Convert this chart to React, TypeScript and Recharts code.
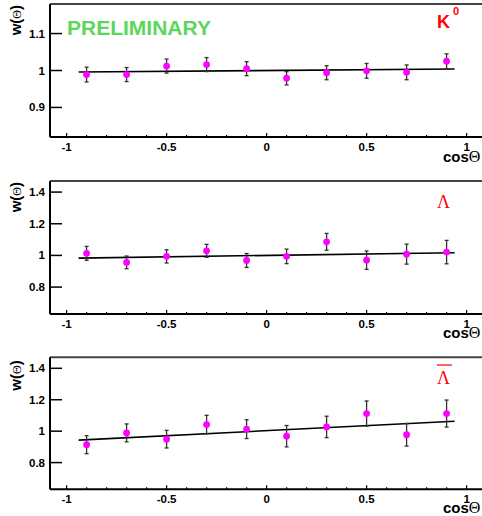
import React from 'react';
import {
  ComposedChart,
  Scatter,
  Line,
  XAxis,
  YAxis,
  ErrorBar,
  Label,
} from 'recharts';

// bin centres in cos(theta)
const cosTheta = [-0.9, -0.7, -0.5, -0.3, -0.1, 0.1, 0.3, 0.5, 0.7, 0.9];

// K0 weights
const k0W = [0.989, 0.989, 1.012, 1.016, 1.005, 0.979, 0.994, 0.999, 0.995, 1.025];
const k0Err = [0.02, 0.019, 0.019, 0.019, 0.019, 0.018, 0.019, 0.02, 0.02, 0.02];

// Lambda weights
const lambdaW = [1.013, 0.956, 0.994, 1.029, 0.968, 0.994, 1.086, 0.97, 1.008, 1.021];
const lambdaErr = [0.044, 0.04, 0.042, 0.041, 0.044, 0.046, 0.053, 0.058, 0.063, 0.074];

// anti-Lambda weights
const antiLambdaW = [0.914, 0.989, 0.949, 1.042, 1.013, 0.968, 1.027, 1.112, 0.977, 1.112];
const antiLambdaErr = [0.057, 0.057, 0.056, 0.059, 0.06, 0.068, 0.068, 0.08, 0.072, 0.086];

// linear fits (end points)
const fitX = [-0.94, 0.94];
const k0Fit = [0.996, 1.004];
const lambdaFit = [0.983, 1.017];
const antiLambdaFit = [0.943, 1.063];

// axis ticks
const xTicks = [
  -1, -0.9, -0.8, -0.7, -0.6, -0.5, -0.4, -0.3, -0.2, -0.1, 0,
  0.1, 0.2, 0.3, 0.4, 0.5, 0.6, 0.7, 0.8, 0.9, 1,
];
const k0YTicks = [0.9, 1, 1.1];
const lambdaYTicks = [0.8, 1, 1.2, 1.4];

const X_DOMAIN: [number, number] = [-1.083, 1.083];
const FONT = '"Liberation Sans", Arial, Helvetica, sans-serif';
const SERIF = '"Liberation Serif", "Times New Roman", serif';

const isMajor = (v: number) => Math.abs(v * 2 - Math.round(v * 2)) < 1e-6;

const XTick = (props: any) => {
  const { x, y, payload } = props;
  const major = isMajor(payload.value);
  return (
    <g>
      <line x1={x} x2={x} y1={y} y2={y - (major ? 4 : 2)} stroke="#000" strokeWidth={1.2} />
      {major && (
        <text x={x} y={y + 14} textAnchor="middle" fontFamily={FONT} fontWeight="bold" fontSize={11.5} fill="#000">
          {payload.value}
        </text>
      )}
    </g>
  );
};

const YTick = (props: any) => {
  const { x, y, payload } = props;
  return (
    <g>
      <line x1={x} x2={x + 12} y1={y} y2={y} stroke="#000" strokeWidth={1.5} />
      <text x={x - 5} y={y + 4} textAnchor="end" fontFamily={FONT} fontWeight="bold" fontSize={11.5} fill="#000">
        {payload.value}
      </text>
    </g>
  );
};

const Dot = (props: any) => <circle cx={props.cx} cy={props.cy} r={3.4} fill="#ff00ff" />;

interface PanelProps {
  top: number;
  height: number;
  margin: { top: number; right: number; bottom: number; left: number };
  values: number[];
  errors: number[];
  fit: number[];
  yDomain: [number, number];
  yTicks: number[];
  titleOffset: number;
  cosOffset: number;
}

function Panel({ top, height, margin, values, errors, fit, yDomain, yTicks, titleOffset, cosOffset }: PanelProps) {
  const points = cosTheta.map((x, i) => ({ x, w: values[i], err: errors[i] }));
  const fitLine = fitX.map((x, i) => ({ x, w: fit[i] }));

  return (
    <div style={{ position: 'absolute', left: 0, top }}>
      <ComposedChart width={490} height={height} margin={margin} style={{ overflow: 'visible' }}>
        <XAxis
          xAxisId="top"
          orientation="top"
          type="number"
          domain={X_DOMAIN}
          height={1}
          tick={false}
          tickLine={false}
          axisLine={{ stroke: '#444', strokeWidth: 2 }}
        />
        <XAxis
          dataKey="x"
          type="number"
          domain={X_DOMAIN}
          ticks={xTicks}
          interval={0}
          height={20}
          tickSize={0}
          tickMargin={0}
          tickLine={false}
          tick={<XTick />}
          axisLine={{ stroke: '#000', strokeWidth: 2 }}
        >
          <Label
            content={(p: any) => (
              <text x={443} y={p.viewBox.y + cosOffset} fontFamily={FONT} fontWeight="bold" fontSize={15} fill="#000">
                cos
                <tspan fontFamily={SERIF} fontWeight="normal" fontSize={16}>Θ</tspan>
              </text>
            )}
          />
        </XAxis>
        <YAxis
          type="number"
          domain={yDomain}
          ticks={yTicks}
          interval={0}
          width={50}
          tickSize={0}
          tickMargin={0}
          tickLine={false}
          tick={<YTick />}
          axisLine={{ stroke: '#000', strokeWidth: 2 }}
        >
          <Label
            content={(p: any) => (
              <text
                transform={`translate(21, ${p.viewBox.y + titleOffset}) rotate(-90)`}
                textAnchor="end"
                fontFamily={FONT}
                fontWeight="bold"
                fontSize={15}
                fill="#000"
              >
                w(
                <tspan fontFamily={SERIF} fontWeight="normal" fontSize={12}>Θ</tspan>)
              </text>
            )}
          />
        </YAxis>
        <Line
          data={fitLine}
          dataKey="w"
          type="linear"
          stroke="#000"
          strokeWidth={1.6}
          dot={false}
          activeDot={false}
          isAnimationActive={false}
        />
        <Scatter data={points} dataKey="w" shape={<Dot />} isAnimationActive={false}>
          <ErrorBar dataKey="err" direction="y" width={2} stroke="#333" strokeWidth={1.3} />
        </Scatter>
      </ComposedChart>
    </div>
  );
}

export default function App() {
  return (
    <div
      style={{
        position: 'absolute',
        left: 0,
        top: 0,
        width: 482,
        height: 516,
        overflow: 'hidden',
        background: '#fff',
      }}
    >
      <Panel
        top={0}
        height={170}
        margin={{ top: 3, right: 6.8, bottom: 13, left: 0 }}
        values={k0W}
        errors={k0Err}
        fit={k0Fit}
        yDomain={[0.82, 1.18]}
        yTicks={k0YTicks}
        titleOffset={1}
        cosOffset={24.5}
      />
      <Panel
        top={170}
        height={170}
        margin={{ top: 10, right: 6.8, bottom: 6, left: 0 }}
        values={lambdaW}
        errors={lambdaErr}
        fit={lambdaFit}
        yDomain={[0.63, 1.47]}
        yTicks={lambdaYTicks}
        titleOffset={1}
        cosOffset={23.5}
      />
      <Panel
        top={340}
        height={176}
        margin={{ top: 16.3, right: 6.8, bottom: 6.7, left: 0 }}
        values={antiLambdaW}
        errors={antiLambdaErr}
        fit={antiLambdaFit}
        yDomain={[0.63, 1.47]}
        yTicks={lambdaYTicks}
        titleOffset={3}
        cosOffset={24}
      />
      <svg width={482} height={516} style={{ position: 'absolute', left: 0, top: 0, pointerEvents: 'none' }}>
        <text x={67} y={35} fontFamily={FONT} fontWeight="bold" fontSize={21} fill="#5cd65c">
          PRELIMINARY
        </text>
        <text x={437} y={28} fontFamily={FONT} fontWeight="bold" fontSize={18} fill="#ff0000">
          K
        </text>
        <text x={453} y={15} fontFamily={FONT} fontWeight="bold" fontSize={11} fill="#ff0000">
          0
        </text>
        <text x={437} y={208} fontFamily={SERIF} fontSize={18} fill="#ff0000">
          Λ
        </text>
        <line x1={437} x2={452} y1={365} y2={365} stroke="#ff0000" strokeWidth={1.2} />
        <text x={437} y={384} fontFamily={SERIF} fontSize={18} fill="#ff0000">
          Λ
        </text>
      </svg>
    </div>
  );
}
